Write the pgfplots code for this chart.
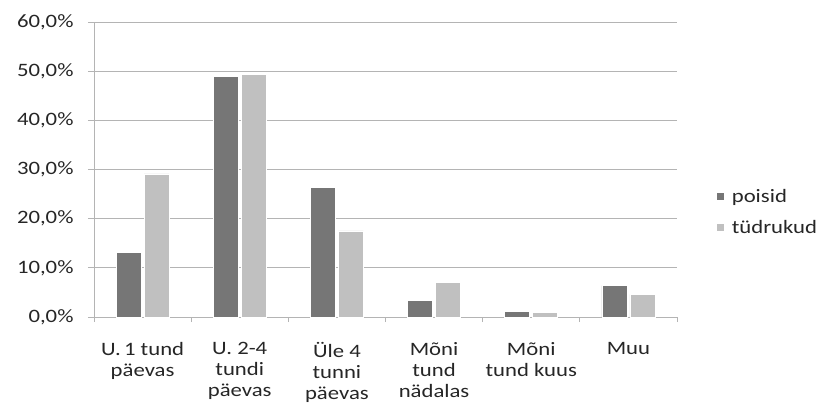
\documentclass[border=0pt]{standalone}
\usepackage{fontspec}
\setmainfont{Carlito}[FakeStretch=1.2]
\usepackage{pgfplots}
\pgfplotsset{compat=1.18}
\definecolor{boys}{HTML}{767676}
\definecolor{girls}{HTML}{C0C0C0}
\definecolor{gridc}{HTML}{B4B4B4}
\begin{document}
\begin{tikzpicture}[x=1bp,y=1bp]
\useasboundingbox (-94bp,-88bp) rectangle (731bp,317bp);
\begin{axis}[
  at={(0,0)}, anchor=south west,
  scale only axis,
  width=583bp, height=295bp,
  ybar=3bp, bar width=25bp,
  xmin=-0.5, xmax=5.5, ymin=0, ymax=60,
  xtick={0,...,5},
  xticklabels={{U.\,1 tund\\päevas},{U. 2-4\\tundi\\päevas},{Üle 4\\tunni\\päevas},{Mõni\\tund\\nädalas},{Mõni\\tund kuus},{Muu}},
  minor xtick={-0.5,0.5,...,5.5},
  major x tick style={draw=none},
  minor x tick style={draw=gridc, line width=0.8pt},
  minor tick length=5bp,
  ytick={0,10,...,60},
  major tick length=6bp,
  tick align=outside,
  y tick style={draw=gridc, line width=0.8pt},
  ymajorgrids,
  grid style={draw=gridc, line width=0.8pt},
  axis x line*=bottom, axis y line*=left,
  axis line style={draw=gridc, line width=0.8pt},
  /pgf/number format/assume math mode=true,
  yticklabel={\pgfmathprintnumber[fixed,fixed zerofill,precision=1,use comma,assume math mode=true]{\tick}\%},
  yticklabel style={font=\fontsize{19}{20}\selectfont, color=black!85, xshift=-11bp},
  xticklabel style={font=\fontsize{19}{21}\selectfont, color=black!85, align=center, anchor=north, yshift=-16bp},
  legend style={at={(1.067,0.44)}, anchor=north west, draw=none, fill=none,
    font=\fontsize{19}{20}\selectfont, text=black!85, row sep=12bp, inner sep=0pt},
  legend cell align=left,
  legend image code/.code={\fill[#1] (0bp,-3.5bp) rectangle (7.5bp,4bp); \path (13bp,0bp);},
]
\addplot[fill=boys, draw=white, line width=0.6pt] coordinates {(0,13.1) (1,49.0) (2,26.4) (3,3.3) (4,1.2) (5,6.4)};
\addplot[fill=girls, draw=white, line width=0.6pt] coordinates {(0,29.1) (1,49.4) (2,17.5) (3,7.0) (4,0.95) (5,4.6)};
\legend{poisid, tüdrukud}
\end{axis}
\end{tikzpicture}
\end{document}
